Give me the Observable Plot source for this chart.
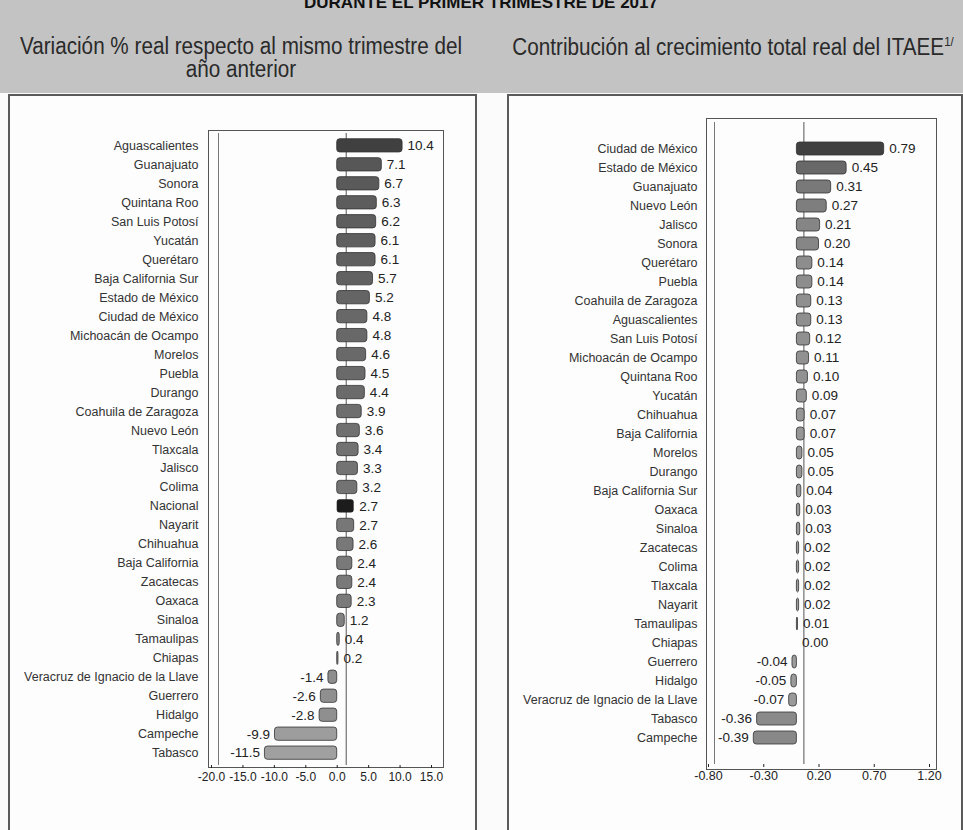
<!DOCTYPE html>
<html><head><meta charset="utf-8">
<script src="https://cdn.jsdelivr.net/npm/d3@7"></script>
<script src="https://cdn.jsdelivr.net/npm/@observablehq/plot@0.6"></script>
<style>
body{margin:0;width:963px;height:830px;overflow:hidden;background:#fbfbfb;font-family:"Liberation Sans",Arial,sans-serif;position:relative}
#band{position:absolute;left:0;top:0;width:963px;height:93px;background:#c3c3c3}
.t{position:absolute;white-space:nowrap;color:#2a2a2a;line-height:1;transform:translateX(-50%) scaleX(0.88);transform-origin:center}
.panel{position:absolute;top:94px;height:760px;border:2px solid #5a5a5a;background:#fdfdfd}
.chart{position:absolute;top:100px}
</style></head>
<body>
<div id="band"></div>
<div class="t" style="left:481px;top:-6px;font-size:17px;font-weight:bold;color:#111;transform:translateX(-50%)">DURANTE EL PRIMER TRIMESTRE DE 2017</div>
<div class="t" style="left:241px;top:35px;font-size:23.5px">Variación % real respecto al mismo trimestre del</div>
<div class="t" style="left:241px;top:58px;font-size:23.5px">año anterior</div>
<div class="t" style="left:733px;top:35px;font-size:23.5px">Contribución al crecimiento total real del ITAEE<sup style="font-size:13px">1/</sup></div>
<div class="panel" style="left:8px;width:465px"></div>
<div class="panel" style="left:507px;width:452px"></div>
<div id="left" class="chart" style="left:10px"></div>
<div id="right" class="chart" style="left:510px"></div>
<script>
// Variación % real respecto al mismo trimestre del año anterior
const estadosVar = ["Aguascalientes","Guanajuato","Sonora","Quintana Roo","San Luis Potosí","Yucatán","Querétaro","Baja California Sur","Estado de México","Ciudad de México","Michoacán de Ocampo","Morelos","Puebla","Durango","Coahuila de Zaragoza","Nuevo León","Tlaxcala","Jalisco","Colima","Nacional","Nayarit","Chihuahua","Baja California","Zacatecas","Oaxaca","Sinaloa","Tamaulipas","Chiapas","Veracruz de Ignacio de la Llave","Guerrero","Hidalgo","Campeche","Tabasco"];
const variacion = [10.4,7.1,6.7,6.3,6.2,6.1,6.1,5.7,5.2,4.8,4.8,4.6,4.5,4.4,3.9,3.6,3.4,3.3,3.2,2.7,2.7,2.6,2.4,2.4,2.3,1.2,0.4,0.2,-1.4,-2.6,-2.8,-9.9,-11.5];
const ticksVar = [-20,-15,-10,-5,0,5,10,15];

// Contribución al crecimiento total real del ITAEE
const estadosCon = ["Ciudad de México","Estado de México","Guanajuato","Nuevo León","Jalisco","Sonora","Querétaro","Puebla","Coahuila de Zaragoza","Aguascalientes","San Luis Potosí","Michoacán de Ocampo","Quintana Roo","Yucatán","Chihuahua","Baja California","Morelos","Durango","Baja California Sur","Oaxaca","Sinaloa","Zacatecas","Colima","Tlaxcala","Nayarit","Tamaulipas","Chiapas","Guerrero","Hidalgo","Veracruz de Ignacio de la Llave","Tabasco","Campeche"];
const contribucion = [0.79,0.45,0.31,0.27,0.21,0.20,0.14,0.14,0.13,0.13,0.12,0.11,0.10,0.09,0.07,0.07,0.05,0.05,0.04,0.03,0.03,0.02,0.02,0.02,0.02,0.01,0.00,-0.04,-0.05,-0.07,-0.36,-0.39];
const ticksCon = [-0.8,-0.3,0.2,0.7,1.2];

const f1 = d => d3.format(".1f")(d).replace("\u2212","-");
const f2 = d => d3.format(".2f")(d).replace("\u2212","-");
const font = "'Liberation Sans', Arial, sans-serif";

const dataL = estadosVar.map((e,i)=>({estado:e, valor:variacion[i]}));
const dataR = estadosCon.map((e,i)=>({estado:e, valor:contribucion[i]}));

const plotL = Plot.plot({
  width: 462, height: 705, marginLeft: 201, marginRight: 41, marginTop: 33, marginBottom: 40,
  style: {background:"transparent", fontFamily: font, color:"#333"},
  x: {domain:[-20,15]},
  y: {domain: estadosVar, padding: 0.3},
  color: {type:"linear", domain:[-11.5,0,10.4], range:["#a0a0a0","#8a8a8a","#404040"]},
  marks: [
    Plot.frame({insetLeft:-3, insetRight:-12, insetTop:-3, insetBottom:-2, stroke:"#555"}),
    Plot.ruleX([-20], {dx:7, stroke:"#777"}),
    Plot.ruleX([0], {dx:9, stroke:"#555"}),
    Plot.barX(dataL.filter(d=>d.estado!=="Nacional"), {x:"valor", y:"estado", fill:"valor", stroke:"#333", strokeWidth:0.8, rx:3}),
    Plot.barX(dataL.filter(d=>d.estado==="Nacional"), {x:"valor", y:"estado", fill:"#1c1c1c", rx:3}),
    Plot.text(dataL.filter(d=>d.valor>=0), {x:"valor", y:"estado", text:d=>f1(d.valor), textAnchor:"start", dx:5, fontSize:13.5, fill:"#222"}),
    Plot.text(dataL.filter(d=>d.valor<0), {x:"valor", y:"estado", text:d=>f1(d.valor), textAnchor:"end", dx:-5, fontSize:13.5, fill:"#222"}),
    Plot.axisX({ticks: ticksVar, tickFormat: f1, tickSize:3, tickPadding:4, fontSize:12, label:null, color:"#222"}),
    Plot.axisY({tickSize:0, tickPadding:13, fontSize:12.5, label:null, color:"#333"})
  ]
});
document.getElementById("left").appendChild(plotL);

const plotR = Plot.plot({
  width: 448, height: 704, marginLeft: 198, marginRight: 29, marginTop: 22, marginBottom: 40,
  style: {background:"transparent", fontFamily: font, color:"#333"},
  x: {domain:[-0.8,1.2]},
  y: {domain: estadosCon, padding: 0.3},
  color: {type:"linear", domain:[-0.39,0,0.79], range:["#888888","#9e9e9e","#404040"]},
  marks: [
    Plot.frame({insetLeft:-2, insetRight:-7, insetTop:-4, insetBottom:-5, stroke:"#555"}),
    Plot.ruleX([-0.8], {dx:6, stroke:"#777"}),
    Plot.ruleX([0], {dx:7, stroke:"#555"}),
    Plot.barX(dataR, {x:"valor", y:"estado", fill:"valor", stroke:"#333", strokeWidth:0.8, rx:3}),
    Plot.text(dataR.filter(d=>d.valor>=0), {x:"valor", y:"estado", text:d=>f2(d.valor), textAnchor:"start", dx:5, fontSize:13.5, fill:"#222"}),
    Plot.text(dataR.filter(d=>d.valor<0), {x:"valor", y:"estado", text:d=>f2(d.valor), textAnchor:"end", dx:-5, fontSize:13.5, fill:"#222"}),
    Plot.axisX({ticks: ticksCon, tickFormat: f2, tickSize:3, tickPadding:4, fontSize:12.5, label:null, color:"#222"}),
    Plot.axisY({tickSize:0, tickPadding:11, fontSize:12.5, label:null, color:"#333"})
  ]
});
document.getElementById("right").appendChild(plotR);
</script>
</body></html>
